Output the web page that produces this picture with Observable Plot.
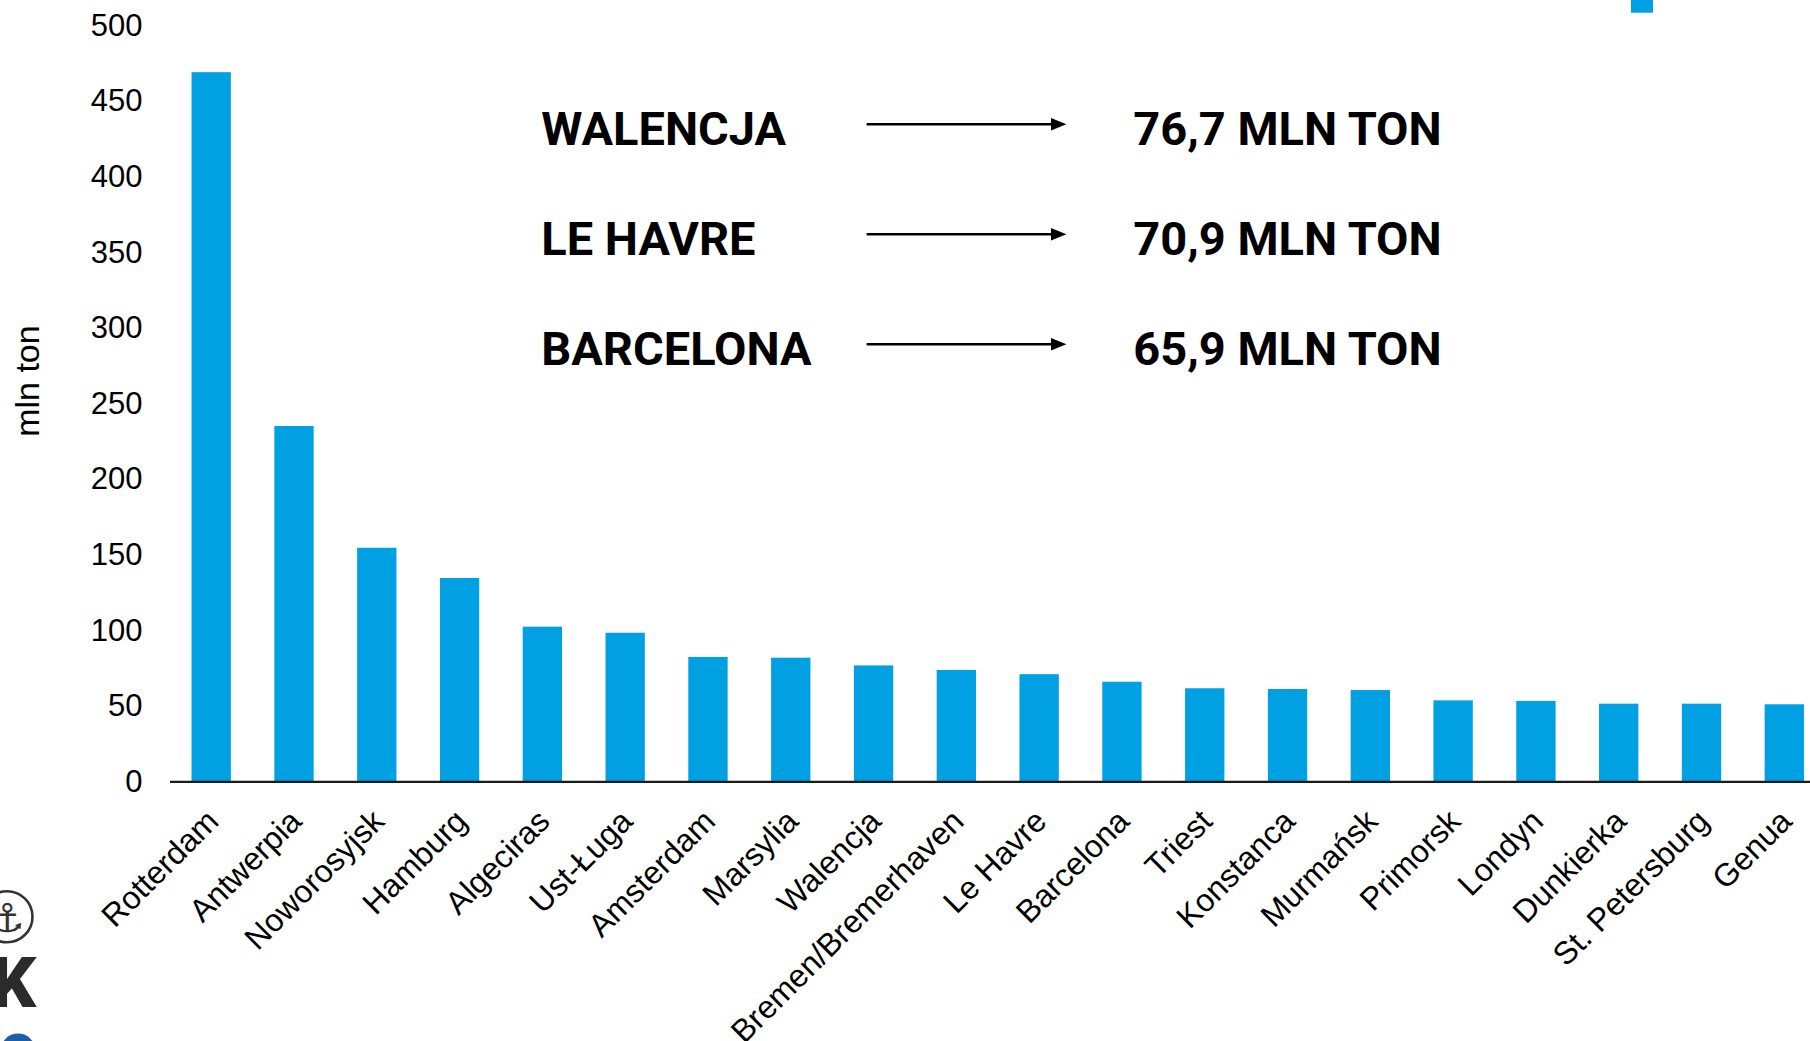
<!DOCTYPE html>
<html><head><meta charset="utf-8">
<script src="https://cdn.jsdelivr.net/npm/d3@7"></script>
<script src="https://cdn.jsdelivr.net/npm/@observablehq/plot@0.6"></script>
<style>
html,body{margin:0;padding:0;background:#fff;overflow:hidden;}
#wrap{position:relative;width:1810px;height:1041px;overflow:hidden;}
</style></head><body><div id="wrap"></div>
<script>
// ---- data ----
const ports = ["Rotterdam","Antwerpia","Noworosyjsk","Hamburg","Algeciras","Ust-Ługa","Amsterdam","Marsylia","Walencja","Bremen/Bremerhaven","Le Havre","Barcelona","Triest","Konstanca","Murmańsk","Primorsk","Londyn","Dunkierka","St. Petersburg","Genua"];
const volumes = [469, 235, 154.5, 134.5, 102.3, 98.3, 82.3, 81.8, 76.7, 73.7, 70.9, 65.9, 61.6, 61.1, 60.4, 53.6, 53.2, 51.4, 51.4, 51.0];
const yTicks = [0, 50, 100, 150, 200, 250, 300, 350, 400, 450, 500];
const yTitle = "mln ton";
const calloutPorts = ["WALENCJA", "LE HAVRE", "BARCELONA"];
const calloutValues = ["76,7 MLN TON", "70,9 MLN TON", "65,9 MLN TON"];

const data = ports.map((p, i) => ({port: p, value: volumes[i]}));

const W = 1810, H = 1041;
const y0 = 781.4, y500 = 25.3;
const barColor = "#00A0E2";

const chart = Plot.plot({
  width: W, height: H,
  marginLeft: 170, marginRight: 0, marginTop: y500, marginBottom: H - y0,
  style: {fontFamily: "'Liberation Sans', Arial, sans-serif", fontSize: "31px", color: "#000", background: "#fff", overflow: "visible"},
  x: {domain: ports, range: [169.8, 1825.7], paddingInner: 0.525, paddingOuter: 0.2625, align: 0.5, round: false},
  y: {domain: [0, 500], range: [y0, y500]},
  marks: [
    Plot.barY(data, {x: "port", y: "value", fill: barColor}),
    Plot.ruleY([0], {stroke: "#1a1a1a", strokeWidth: 2.2}),
    Plot.axisY({ticks: yTicks, tickSize: 0, tickPadding: 28, fontSize: 31, label: null}),
    Plot.axisX({tickSize: 0, tickRotate: -45, tickPadding: 34, textAnchor: "end", lineAnchor: "middle", dx: 1.5, fontSize: 32, label: null}),
    Plot.text([yTitle], {text: d => d, frameAnchor: "left", rotate: -90, dx: -142.3, dy: 33, fontSize: 34})
  ]
});

document.getElementById("wrap").appendChild(chart);

// ---- callout annotation (overlay text box) ----
const svg = d3.select(chart);
const g = svg.append("g")
  .attr("font-family", "Roboto, 'Noto Sans', sans-serif")
  .attr("font-weight", 700).attr("font-size", 47)
  .attr("text-anchor", "start").attr("fill", "#000");
const baselines = [145, 255, 365];
calloutPorts.forEach((name, i) => {
  const b = baselines[i];
  g.append("text").attr("x", 541.3).attr("y", b).attr("text-anchor", "start").text(name);
  g.append("text").attr("x", 1133.3).attr("y", b).attr("text-anchor", "start").text(calloutValues[i]);
  const ay = b - 20.7;
  g.append("line").attr("x1", 866.6).attr("x2", 1053).attr("y1", ay).attr("y2", ay).attr("stroke", "#000").attr("stroke-width", 2.4);
  g.append("path").attr("d", `M1051,${ay - 6.3}L1066.4,${ay}L1051,${ay + 6.3}Z`).attr("fill", "#000");
});

// ---- cropped legend swatch (top right) ----
svg.append("rect").attr("x", 1631).attr("y", 0).attr("width", 22).attr("height", 12.7).attr("fill", barColor);

// ---- cropped logo (bottom left) ----
const logo = svg.append("g");
logo.append("circle").attr("cx", 7).attr("cy", 916.7).attr("r", 25.5).attr("fill", "none").attr("stroke", "#333").attr("stroke-width", 2.6);
logo.append("text").attr("x", 7).attr("y", 932).attr("text-anchor", "middle").attr("font-family", "'DejaVu Sans'").attr("font-size", 40).attr("fill", "#333").text("⚓");
logo.append("text").attr("x", 36).attr("y", 1006.7).attr("text-anchor", "end").attr("font-family", "Roboto, sans-serif").attr("font-weight", 900).attr("font-size", 70).attr("fill", "#2b2b2b").text("K");
logo.append("circle").attr("cx", 18).attr("cy", 1051).attr("r", 17.5).attr("fill", "#1d5ea8");
</script></body></html>
